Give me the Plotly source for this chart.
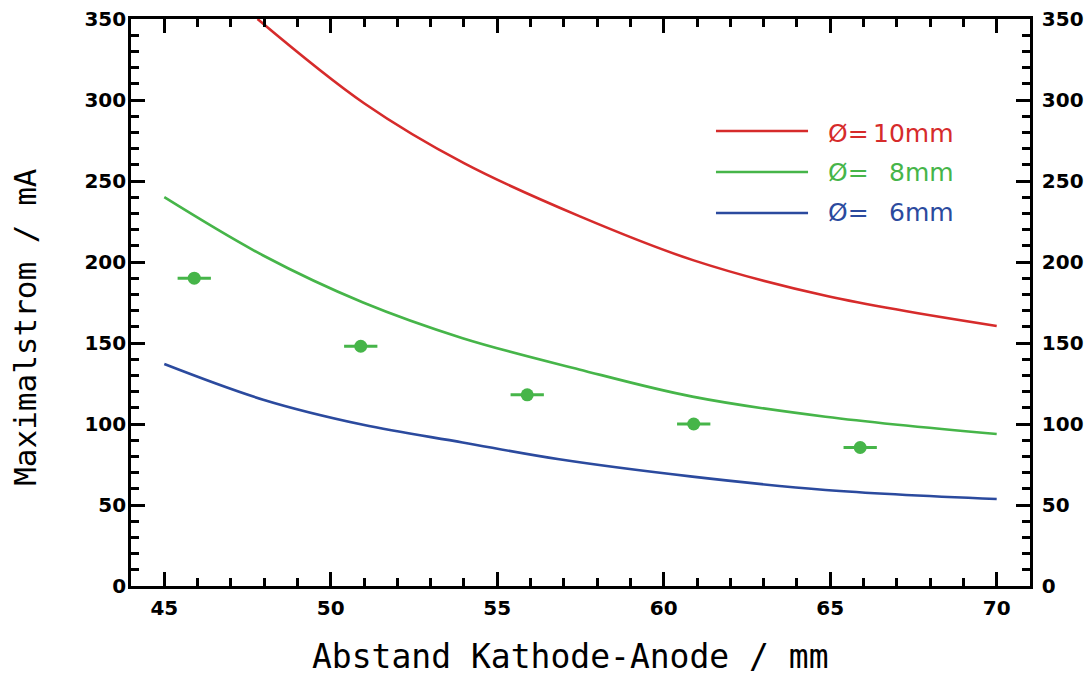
import plotly.graph_objects as go

# ---- data ----
red_x = [47.8, 51.0, 54.0, 57.5, 60.9, 64.9, 70.0]
red_y = [350, 298, 261, 228, 201, 179, 160.5]

green_x = [45.0, 47.97, 50.97, 53.96, 57.46, 60.86, 64.86, 70.0]
green_y = [240, 204, 175, 153, 133.7, 116.9, 104.5, 93.8]

blue_x = [45.0, 47.97, 50.97, 53.96, 56.86, 60.86, 64.86, 70.0]
blue_y = [137, 115, 99.5, 88.6, 78.2, 67.5, 59.3, 53.7]

meas_x = [45.9, 50.9, 55.9, 60.9, 65.9]
meas_y = [190, 148, 118, 100, 85.5]
meas_xerr = [0.5, 0.5, 0.5, 0.5, 0.5]

legend_labels = ["10mm", "8mm", "6mm"]
x_title = "Abstand Kathode-Anode / mm"
y_title = "Maximalstrom / mA"

RED = "#d62b2b"
GREEN = "#46b549"
BLUE = "#2b4a9e"

fig = go.Figure()
for xs, ys, col, ya in [(red_x, red_y, RED, "y"), (green_x, green_y, GREEN, "y"),
                        (blue_x, blue_y, BLUE, "y2")]:
    fig.add_trace(go.Scatter(x=xs, y=ys, mode="lines", yaxis=ya,
                             line=dict(color=col, width=2.6, shape="spline", smoothing=1.0),
                             showlegend=False, hoverinfo="skip"))

fig.add_trace(go.Scatter(x=meas_x, y=meas_y, mode="markers",
                         marker=dict(color=GREEN, size=13),
                         error_x=dict(type="data", array=meas_xerr, color=GREEN,
                                      thickness=3, width=0),
                         showlegend=False))

tickfont = dict(family="DejaVu Sans", size=20, color="black", weight="bold")
common_axis = dict(showline=True, linecolor="black", linewidth=2.6,
                   ticks="inside", ticklen=14, tickwidth=2.6, tickcolor="black",
                   showgrid=False, zeroline=False, tickfont=tickfont, automargin=False)
minor_y = dict(dtick=10, ticklen=8, tickwidth=2.6, tickcolor="black", ticks="inside")

fig.update_layout(
    width=1088, height=675,
    margin=dict(l=131, r=58, t=19, b=89, autoexpand=False),
    paper_bgcolor="white", plot_bgcolor="white",
    xaxis=dict(range=[44, 71], tick0=45, dtick=5, mirror="ticks",
               minor=dict(dtick=1, ticklen=8, tickwidth=2.6, tickcolor="black", ticks="inside"),
               ticklabelstandoff=2, **common_axis),
    yaxis=dict(range=[0, 350], tick0=0, dtick=50, minor=minor_y,
               ticklabelstandoff=-2, **common_axis),
    yaxis2=dict(range=[0, 350], tick0=0, dtick=50, overlaying="y", side="right",
                anchor="x", matches="y", minor=minor_y,
                ticklabelstandoff=5, **common_axis),
)

# axis titles
fig.add_annotation(text=x_title, xref="paper", yref="paper", x=0.4894, y=-0.1252,
                   showarrow=False, xanchor="center", yanchor="middle",
                   font=dict(family="DejaVu Sans Mono", size=33, color="black"))
fig.add_annotation(text=y_title, xref="paper", yref="paper", x=-0.118, y=0.457,
                   textangle=-90, showarrow=False, xanchor="center", yanchor="middle",
                   font=dict(family="DejaVu Sans Mono", size=31, color="black"))

# manual legend
leg_line_y = [0.8025, 0.7302, 0.6578]
leg_text_y = [0.7989, 0.7284, 0.6596]
for lab, col, ly, ty in zip(legend_labels, [RED, GREEN, BLUE], leg_line_y, leg_text_y):
    fig.add_shape(type="line", xref="paper", yref="paper", x0=0.6507, x1=0.7531,
                  y0=ly, y1=ly, line=dict(color=col, width=2.6))
    fig.add_annotation(text="Ø=", xref="paper", yref="paper", x=0.7742, y=ty,
                       xanchor="left", yanchor="middle", showarrow=False, borderpad=0,
                       font=dict(family="DejaVu Sans", size=25, color=col))
    fig.add_annotation(text=lab, xref="paper", yref="paper", x=0.9166, y=ty,
                       xanchor="right", yanchor="middle", showarrow=False, borderpad=0,
                       font=dict(family="DejaVu Sans", size=25, color=col))

fig.write_html("out.html")
